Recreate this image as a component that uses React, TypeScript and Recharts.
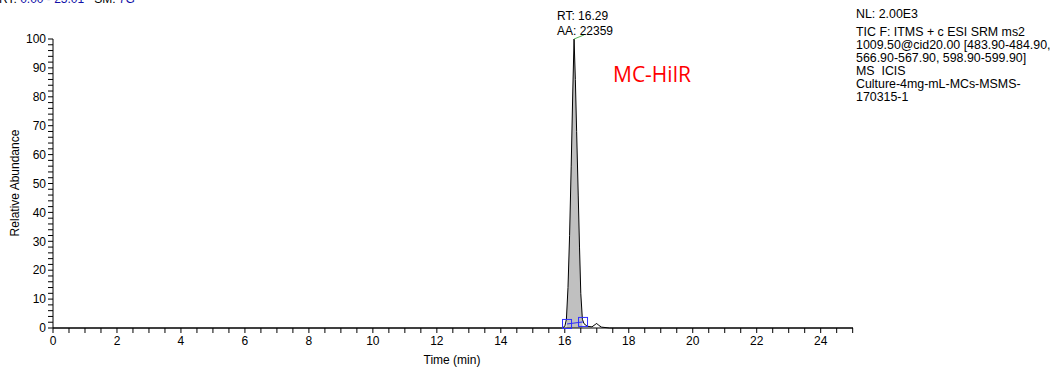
import React from "react";
import {
  ComposedChart,
  Area,
  Line,
  Scatter,
  XAxis,
  YAxis,
  ReferenceLine,
} from "recharts";

// chromatogram trace (min, relative abundance %)
const times = [
  0, 5, 10, 15, 15.9, 16.0, 16.05, 16.1, 16.15, 16.2, 16.25, 16.29, 16.33, 16.37,
  16.42, 16.46, 16.5, 16.55, 16.6, 16.7, 16.85, 16.95, 17.0, 17.05, 17.15, 17.4, 20, 25.01,
];
const abundance = [
  0, 0, 0, 0, 0, 0.5, 3, 14, 32, 56, 82, 100, 86, 68,
  46, 28, 12, 3, 1.5, 0.6, 0.4, 1.2, 1.6, 1.0, 0.3, 0, 0, 0,
];

// integration window (ICIS start / end markers)
const markerTimes = [16.07, 16.57];
const markerLevels = [1.4, 2.1];

const xTickLabels = [0, 2, 4, 6, 8, 10, 12, 14, 16, 18, 20, 22, 24];
const yTickLabels = [0, 10, 20, 30, 40, 50, 60, 70, 80, 90, 100];
const X_MINOR = 0.5;
const Y_MINOR = 2;

const infoLines = [
  "TIC F: ITMS + c ESI SRM ms2",
  "1009.50@cid20.00 [483.90-484.90,",
  "566.90-567.90, 598.90-599.90]",
  "MS  ICIS",
  "Culture-4mg-mL-MCs-MSMS-",
  "170315-1",
];

const xTicks = Array.from({ length: 51 }, (_, i) => i * X_MINOR);
const yTicks = Array.from({ length: 51 }, (_, i) => i * Y_MINOR);

const rows = times.map((t, i) => ({
  t,
  abundance: abundance[i],
  fill: t >= markerTimes[0] - 0.02 && t <= markerTimes[1] ? abundance[i] : null,
}));
const markers = markerTimes.map((t, i) => ({ t, abundance: markerLevels[i] }));

const FONT = "'Liberation Sans', Arial, sans-serif";
const BLUE = "#1010a8";

function Square(props: any) {
  const { cx, cy } = props;
  if (cx == null || cy == null) return null;
  return <rect x={cx - 4.5} y={cy - 4.5} width={9} height={9} fill="none" stroke="#2e2eff" strokeWidth={1} />;
}

export default function App() {
  return (
    <div
      style={{
        position: "absolute",
        left: 0,
        top: 0,
        width: 1052,
        height: 367,
        overflow: "hidden",
        background: "#fff",
        fontFamily: FONT,
        fontSize: 12,
        color: "#000",
      }}
    >
      <ComposedChart
        width={1052}
        height={367}
        data={rows}
        margin={{ top: 39, right: 199, bottom: 0, left: 0 }}
        style={{ fontFamily: FONT }}
      >
        <XAxis
          dataKey="t"
          type="number"
          domain={[0, 25.01]}
          ticks={xTicks}
          interval={0}
          height={39}
          tickSize={5}
          tickMargin={3}
          stroke="#000"
          tick={{ fontSize: 12, fill: "#000" }}
          tickFormatter={(v: number) => (xTickLabels.includes(v) ? String(v) : "")}
        />
        <YAxis
          type="number"
          domain={[0, 100]}
          ticks={yTicks}
          interval={0}
          width={53}
          tickSize={5}
          tickMargin={2}
          stroke="#000"
          tick={{ fontSize: 12, fill: "#000" }}
          tickFormatter={(v: number) => (yTickLabels.includes(v) ? String(v) : "")}
        />
        <Area
          dataKey="fill"
          type="linear"
          stroke="none"
          fill="#c0c0c0"
          fillOpacity={1}
          isAnimationActive={false}
        />
        <Line
          dataKey="abundance"
          type="linear"
          stroke="#000"
          strokeWidth={1}
          dot={false}
          isAnimationActive={false}
        />
        <Scatter
          data={markers}
          dataKey="abundance"
          line={{ stroke: "#2e2eff", strokeWidth: 1 }}
          shape={<Square />}
          isAnimationActive={false}
        />
        <ReferenceLine
          segment={[
            { x: 16.29, y: 100 },
            { x: 16.6, y: 101.4 },
          ]}
          stroke="#55b055"
          ifOverflow="visible"
        />
      </ComposedChart>

      {/* header, clipped at the top like the instrument export */}
      <div style={{ position: "absolute", left: -1, top: -8, whiteSpace: "pre" }}>
        RT: <span style={{ color: BLUE }}>0.00 - 25.01</span>   SM: <span style={{ color: BLUE }}>7G</span>
      </div>

      {/* peak annotation */}
      <div style={{ position: "absolute", left: 557, top: 9, lineHeight: "15px" }}>
        <div>RT: 16.29</div>
        <div>AA: 22359</div>
      </div>

      <div
        style={{
          position: "absolute",
          left: 613,
          top: 60,
          fontSize: 21,
          color: "#ff0000",
          fontFamily: "'Open Sans', sans-serif",
        }}
      >
        MC-HilR
      </div>

      {/* instrument info */}
      <div
        style={{
          position: "absolute",
          left: 856,
          top: 8,
          lineHeight: "13px",
          fontSize: 12.4,
          whiteSpace: "pre",
        }}
      >
        <div style={{ marginBottom: 5 }}>NL: 2.00E3</div>
        {infoLines.map((l) => (
          <div key={l}>{l}</div>
        ))}
      </div>

      <div
        style={{
          position: "absolute",
          left: 15,
          top: 183,
          transform: "translate(-50%, -50%) rotate(-90deg)",
          whiteSpace: "nowrap",
        }}
      >
        Relative Abundance
      </div>

      <div
        style={{
          position: "absolute",
          left: 452,
          top: 360,
          transform: "translate(-50%, -50%)",
          whiteSpace: "nowrap",
        }}
      >
        Time (min)
      </div>
    </div>
  );
}
